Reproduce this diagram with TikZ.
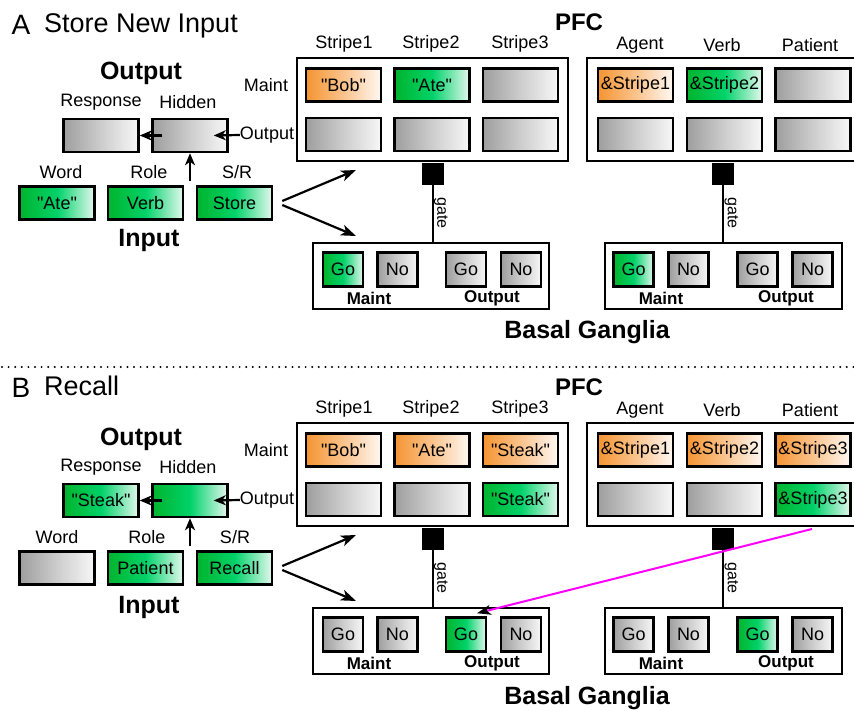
\documentclass[tikz,border=0pt]{standalone}
\usepackage{fontspec}
\setmainfont{Liberation Sans}
\usetikzlibrary{arrows.meta,calc}
\definecolor{grayL}{RGB}{158,158,158}
\definecolor{grayM}{RGB}{205,205,205}
\definecolor{grayR}{RGB}{247,247,247}
\definecolor{grnL}{RGB}{0,180,45}
\definecolor{grnM}{RGB}{0,210,105}
\definecolor{grnR}{RGB}{228,248,238}
\definecolor{orgL}{RGB}{245,148,50}
\definecolor{orgM}{RGB}{250,195,140}
\definecolor{orgR}{RGB}{255,248,242}
\definecolor{mag}{RGB}{255,0,255}
\newcommand\fsz[1]{\fontsize{#1}{#1}\selectfont}
\newcommand\qq{\textquotedbl}
\tikzset{
  cell/.style={draw, line width=2.5pt, minimum width=75pt, minimum height=33pt, inner sep=0pt, font=\fsz{18}},
  gcell/.style={cell, left color=grayL, right color=grayR, middle color=grayM},
  grn/.style={cell, left color=grnL, right color=grnR, middle color=grnM},
  org/.style={cell, left color=orgL, right color=orgR, middle color=orgM},
  gonog/.style={gcell, minimum width=40pt, minimum height=34pt},
  gonoc/.style={grn, minimum width=40pt, minimum height=34pt},
  panel/.style={draw, line width=2.3pt, inner sep=0pt},
  lbl/.style={font=\fsz{18}, inner sep=0pt},
  hdr/.style={font=\bfseries\fsz{25}, inner sep=0pt},
  bglbl/.style={font=\bfseries\fsz{17}, inner sep=0pt},
  gatebox/.style={fill=black, minimum size=22pt, inner sep=0pt},
  gateline/.style={line width=2pt},
  arr/.style={line width=2.2pt, -{Stealth[length=15pt,width=11pt,inset=4pt]}},
  arrs/.style={line width=2.2pt, -{Stealth[length=12pt,width=10pt,inset=3.5pt]}},
}
\begin{document}
\begin{tikzpicture}[x=1pt,y=-1pt]
\useasboundingbox (0,0) rectangle (854,711);

% ================= Panel A =================
\node[font=\fsz{28}, inner sep=0pt] (lA) at (21,25) {A};
\node[font=\fsz{27}, inner sep=0pt, anchor=west] (tA) at (44,26) {Store New Input};

\node[hdr] (outA) at (141,73) {Output};
\node[lbl] (respLA) at (101,102) {Response};
\node[lbl] (hidLA) at (188,102) {Hidden};
\node[gcell] (respA) at (101,135.5) {};
\node[gcell] (hidA) at (190,135.5) {};

\node[lbl] (wordLA) at (61,172) {Word};
\node[lbl] (roleLA) at (149,172) {Role};
\node[lbl] (srLA) at (237,172) {S/R};
\node[grn] (wordA) at (57,203) {\qq Ate\qq};
\node[grn] (roleA) at (145.5,203) {Verb};
\node[grn] (srA) at (234.5,203) {Store};
\node[hdr] (inA) at (149,240) {Input};

% PFC left
\node[panel, minimum width=271pt, minimum height=103pt] (pfcLA) at (432.5,109.5) {};
\node[lbl] (s1LA) at (344,44) {Stripe1};
\node[lbl] (s2LA) at (431,44) {Stripe2};
\node[lbl] (s3LA) at (520,44) {Stripe3};
\node[lbl] (mntA) at (266,85) {Maint};
\node[lbl] (outPA) at (267,135) {Output};
\node[org] (cA11) at (343.5,85) {\qq Bob\qq};
\node[grn] (cA12) at (432,85) {\qq Ate\qq};
\node[gcell] (cA13) at (520.5,85) {};
\node[gcell] (cA21) at (343.5,134.5) {};
\node[gcell] (cA22) at (432,134.5) {};
\node[gcell] (cA23) at (520.5,134.5) {};
\node[font=\bfseries\fsz{24}, inner sep=0pt] (pfcA) at (579,22) {PFC};

% PFC right
\node[panel, minimum width=274pt, minimum height=103pt] (pfcRA) at (724,109.5) {};
\node[lbl] (agLA) at (640,45) {Agent};
\node[lbl] (vbLA) at (722,45) {Verb};
\node[lbl] (ptLA) at (810,45) {Patient};
\node[org] (dA11) at (635.5,85) {\&Stripe1};
\node[grn] (dA12) at (724.5,85) {\&Stripe2};
\node[gcell] (dA13) at (813,85) {};
\node[gcell] (dA21) at (635.5,134.5) {};
\node[gcell] (dA22) at (724.5,134.5) {};
\node[gcell] (dA23) at (813,134.5) {};

% arrows in the output/input area
\draw[arrs] ([xshift=11pt]hidA.west) -- (respA.east);
\draw[arrs] (outPA.west) -- ([xshift=-15pt]hidA.east);
\coordinate (upA) at (190,181);
\draw[arrs] (upA) -- (hidA.south);
\coordinate (toPA) at (356,170);
\coordinate (toBA) at (356,236);
\draw[arr] ([xshift=9pt,yshift=2pt]srA.east) -- (toPA);
\draw[arr] ([xshift=9pt,yshift=-2pt]srA.east) -- (toBA);

% BG left
\node[panel, minimum width=236pt, minimum height=66pt] (bgLA) at (431,276) {};
\node[gatebox] (gLA) at (432.5,174) {};
\draw[gateline] (gLA.south) -- (gLA.south |- bgLA.north);
\node[rotate=-90, font=\fsz{16}, inner sep=0pt] (gtLA) at (441,213) {gate};
\node[gonoc] (bA1) at (343,269.5) {Go};
\node[gonog] (bA2) at (397.5,269.5) {No};
\node[gonog] (bA3) at (466,269.5) {Go};
\node[gonog] (bA4) at (521,269.5) {No};
\node[bglbl] (bmA1) at (369,298) {Maint};
\node[bglbl] (boA1) at (492,298) {Output};

% BG right
\node[panel, minimum width=237pt, minimum height=66pt] (bgRA) at (723.5,276) {};
\node[gatebox] (gRA) at (723,174) {};
\draw[gateline] (gRA.south) -- (gRA.south |- bgRA.north);
\node[rotate=-90, font=\fsz{16}, inner sep=0pt] (gtRA) at (731.5,213) {gate};
\node[gonoc] (eA1) at (633.5,269.5) {Go};
\node[gonog] (eA2) at (688.5,269.5) {No};
\node[gonog] (eA3) at (757.5,269.5) {Go};
\node[gonog] (eA4) at (812.5,269.5) {No};
\node[bglbl] (bmA2) at (661,298) {Maint};
\node[bglbl] (boA2) at (786,298) {Output};

\node[hdr] (bgA) at (587,332) {Basal Ganglia};

% separator
\draw[line width=2.2pt, dash pattern=on 0pt off 6.6pt, line cap=round] (2,367) -- (854,367);

% ================= Panel B =================
\begin{scope}[shift={(0,365)}]
\node[font=\fsz{28}, inner sep=0pt] (lB) at (21,23) {B};
\node[font=\fsz{27}, inner sep=0pt, anchor=west] (tB) at (44,21) {Recall};

\node[hdr] (outB) at (141,74) {Output};
\node[lbl] (respLB) at (101,102) {Response};
\node[lbl] (hidLB) at (188,102) {Hidden};
\node[grn] (respB) at (101,135.5) {\qq Steak\qq};
\node[grn] (hidB) at (190,135.5) {};

\node[lbl] (wordLB) at (57,172) {Word};
\node[lbl] (roleLB) at (147,172) {Role};
\node[lbl] (srLB) at (235,172) {S/R};
\node[gcell] (wordB) at (57,203) {};
\node[grn] (roleB) at (145.5,203) {Patient};
\node[grn] (srB) at (234.5,203) {Recall};
\node[hdr] (inB) at (149,242) {Input};

% PFC left
\node[panel, minimum width=271pt, minimum height=103pt] (pfcLB) at (432.5,109.5) {};
\node[lbl] (s1LB) at (344,44) {Stripe1};
\node[lbl] (s2LB) at (431,44) {Stripe2};
\node[lbl] (s3LB) at (520,44) {Stripe3};
\node[lbl] (mntB) at (266,85) {Maint};
\node[lbl] (outPB) at (267,135) {Output};
\node[org] (cB11) at (343.5,85) {\qq Bob\qq};
\node[org] (cB12) at (432,85) {\qq Ate\qq};
\node[org] (cB13) at (520.5,85) {\qq Steak\qq};
\node[gcell] (cB21) at (343.5,134.5) {};
\node[gcell] (cB22) at (432,134.5) {};
\node[grn] (cB23) at (520.5,134.5) {\qq Steak\qq};
\node[font=\bfseries\fsz{24}, inner sep=0pt] (pfcB) at (579,22) {PFC};

% PFC right
\node[panel, minimum width=274pt, minimum height=103pt] (pfcRB) at (724,109.5) {};
\node[lbl] (agLB) at (640,45) {Agent};
\node[lbl] (vbLB) at (722,45) {Verb};
\node[lbl] (ptLB) at (810,45) {Patient};
\node[org] (dB11) at (635.5,85) {\&Stripe1};
\node[org] (dB12) at (724.5,85) {\&Stripe2};
\node[org] (dB13) at (813,85) {\&Stripe3};
\node[gcell] (dB21) at (635.5,134.5) {};
\node[gcell] (dB22) at (724.5,134.5) {};
\node[grn] (dB23) at (813,134.5) {\&Stripe3};

\draw[arrs] ([xshift=11pt]hidB.west) -- (respB.east);
\draw[arrs] (outPB.west) -- ([xshift=-15pt]hidB.east);
\coordinate (upB) at (190,181);
\draw[arrs] (upB) -- (hidB.south);
\coordinate (toPB) at (356,170);
\coordinate (toBB) at (356,236);
\draw[arr] ([xshift=9pt,yshift=2pt]srB.east) -- (toPB);
\draw[arr] ([xshift=9pt,yshift=-2pt]srB.east) -- (toBB);

% BG left
\node[panel, minimum width=236pt, minimum height=66pt] (bgLB) at (431,276) {};
\node[gatebox] (gLB) at (432.5,174) {};
\draw[gateline] (gLB.south) -- (gLB.south |- bgLB.north);
\node[rotate=-90, font=\fsz{16}, inner sep=0pt] (gtLB) at (441,213) {gate};
\node[gonog] (bB1) at (343,269.5) {Go};
\node[gonog] (bB2) at (397.5,269.5) {No};
\node[gonoc] (bB3) at (466,269.5) {Go};
\node[gonog] (bB4) at (521,269.5) {No};
\node[bglbl] (bmB1) at (369,298) {Maint};
\node[bglbl] (boB1) at (492,298) {Output};

% BG right
\node[panel, minimum width=237pt, minimum height=66pt] (bgRB) at (723.5,276) {};
\node[gatebox] (gRB) at (723,174) {};
\draw[gateline] (gRB.south) -- (gRB.south |- bgRB.north);
\node[rotate=-90, font=\fsz{16}, inner sep=0pt] (gtRB) at (731.5,213) {gate};
\node[gonog] (eB1) at (633.5,269.5) {Go};
\node[gonog] (eB2) at (688.5,269.5) {No};
\node[gonoc] (eB3) at (757.5,269.5) {Go};
\node[gonog] (eB4) at (812.5,269.5) {No};
\node[bglbl] (bmB2) at (661,298) {Maint};
\node[bglbl] (boB2) at (786,298) {Output};

\node[hdr] (bgB) at (587,333) {Basal Ganglia};

% magenta recall arrow
\coordinate (magS) at (812,164);
\draw[mag, line width=2pt, -{Stealth[black,length=14pt,width=10pt,inset=4pt]}] (magS) -- ([xshift=11pt,yshift=3pt]bB3.north);
\end{scope}
\end{tikzpicture}
\end{document}
